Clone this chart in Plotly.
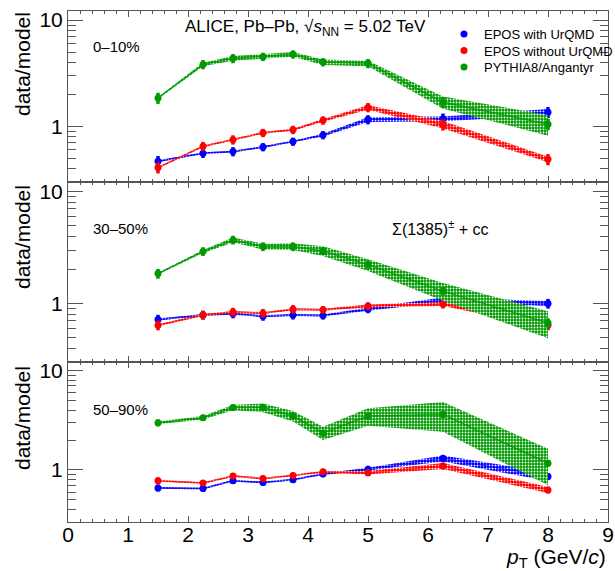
import plotly.graph_objects as go
from plotly.subplots import make_subplots

# ---------------- data ----------------
pt = [1.5, 2.25, 2.75, 3.25, 3.75, 4.25, 5.0, 6.25, 8.0]

# 0-10%
epos_urqmd_0_10 = [0.47, 0.56, 0.58, 0.64, 0.72, 0.83, 1.16, 1.18, 1.36]
epos_nourqmd_0_10 = [0.41, 0.65, 0.75, 0.87, 0.93, 1.14, 1.51, 1.04, 0.49]
pythia_0_10 = [1.85, 3.83, 4.37, 4.53, 4.77, 4.03, 3.92, 1.69, 1.05]
sys_urqmd_0_10 = [0.02, 0.02, 0.02, 0.02, 0.02, 0.03, 0.05, 0.05, 0.07]
sys_nourqmd_0_10 = [0.02, 0.02, 0.02, 0.02, 0.02, 0.03, 0.05, 0.08, 0.06]
sys_pythia_0_10 = [0.02, 0.04, 0.05, 0.05, 0.05, 0.06, 0.06, 0.13, 0.22]
stat_0_10 = [0.12, 0.10, 0.10, 0.09, 0.09, 0.09, 0.10, 0.12, 0.12]

# 30-50%
epos_urqmd_30_50 = [0.72, 0.79, 0.81, 0.77, 0.79, 0.78, 0.89, 1.08, 1.00]
epos_nourqmd_30_50 = [0.64, 0.79, 0.84, 0.82, 0.89, 0.88, 0.95, 0.99, 0.64]
pythia_30_50 = [1.85, 2.92, 3.70, 3.23, 3.23, 2.95, 2.22, 1.29, 0.67]
sys_urqmd_30_50 = [0.02, 0.02, 0.02, 0.02, 0.02, 0.02, 0.03, 0.05, 0.05]
sys_nourqmd_30_50 = [0.02, 0.02, 0.02, 0.02, 0.02, 0.02, 0.03, 0.04, 0.05]
sys_pythia_30_50 = [0.02, 0.03, 0.05, 0.06, 0.07, 0.10, 0.12, 0.18, 0.27]
stat_30_50 = [0.10, 0.09, 0.09, 0.09, 0.09, 0.08, 0.08, 0.09, 0.10]

# 50-90%
epos_urqmd_50_90 = [0.66, 0.65, 0.78, 0.75, 0.80, 0.91, 1.02, 1.31, 0.86]
epos_nourqmd_50_90 = [0.78, 0.74, 0.87, 0.82, 0.88, 0.96, 0.94, 1.10, 0.63]
pythia_50_90 = [2.98, 3.35, 4.24, 4.24, 3.49, 2.36, 3.49, 3.62, 1.17]
sys_urqmd_50_90 = [0.02, 0.02, 0.02, 0.02, 0.02, 0.02, 0.03, 0.07, 0.10]
sys_nourqmd_50_90 = [0.02, 0.02, 0.02, 0.02, 0.02, 0.02, 0.04, 0.07, 0.07]
sys_pythia_50_90 = [0.03, 0.04, 0.06, 0.10, 0.12, 0.15, 0.20, 0.33, 0.40]
stat_50_90 = [0.08, 0.07, 0.07, 0.07, 0.07, 0.07, 0.08, 0.08, 0.08]

model_names = ["EPOS with UrQMD", "EPOS without UrQMD", "PYTHIA8/Angantyr"]
centralities = ["0–10%", "30–50%", "50–90%"]
x_ticks = [0, 1, 2, 3, 4, 5, 6, 7, 8, 9]
y_ticks = [1, 10]
y_minor = [0.3, 0.4, 0.5, 0.6, 0.7, 0.8, 0.9, 2, 3, 4, 5, 6, 7, 8, 9]

panels = [
    (stat_0_10, [(epos_urqmd_0_10, sys_urqmd_0_10), (epos_nourqmd_0_10, sys_nourqmd_0_10), (pythia_0_10, sys_pythia_0_10)]),
    (stat_30_50, [(epos_urqmd_30_50, sys_urqmd_30_50), (epos_nourqmd_30_50, sys_nourqmd_30_50), (pythia_30_50, sys_pythia_30_50)]),
    (stat_50_90, [(epos_urqmd_50_90, sys_urqmd_50_90), (epos_nourqmd_50_90, sys_nourqmd_50_90), (pythia_50_90, sys_pythia_50_90)]),
]

colors = ["#0000ff", "#ff0000", "#009a00"]
line_cols = ["rgba(0,0,255,0.55)", "rgba(255,0,0,0.55)", "rgba(0,154,0,0.8)"]
legend_ids = ["legend", "legend2", "legend3"]

FONT = "Liberation Sans, Arial, sans-serif"

# ---------------- figure ----------------
W, H = 615, 571
ml, mr, mt, mb = 68, 7, 11, 49
fig = make_subplots(rows=3, cols=1, shared_xaxes=True, vertical_spacing=0,
                    row_heights=[171, 180, 160])

for r, (stat, series) in enumerate(panels, start=1):
    for i, (vals, sysr) in enumerate(series):
        up = [v * (1 + s) for v, s in zip(vals, sysr)]
        lo = [v * (1 - s) for v, s in zip(vals, sysr)]
        fig.add_trace(go.Scatter(x=pt + pt[::-1], y=up + lo[::-1], fill="toself",
                                 fillcolor=colors[i],
                                 fillpattern=dict(shape=".", fgcolor="white", bgcolor=colors[i],
                                                  size=3, solidity=0.3, fillmode="replace"),
                                 line=dict(width=0, color=colors[i]), mode="lines",
                                 hoverinfo="skip", showlegend=False), row=r, col=1)
        fig.add_trace(go.Scatter(x=pt, y=vals, mode="lines",
                                 line=dict(color=line_cols[i], width=1.5), showlegend=False,
                                 hoverinfo="skip"), row=r, col=1)
        fig.add_trace(go.Scatter(x=pt, y=vals, mode="markers",
                                 marker=dict(color=colors[i], size=7, symbol="circle"),
                                 error_y=dict(type="data", array=[v * e for v, e in zip(vals, stat)],
                                              color=colors[i], thickness=3.5, width=0),
                                 name=model_names[i], showlegend=(r == 1),
                                 legend=legend_ids[i]),
                      row=r, col=1)

axis_col = "#555555"
for r in range(1, 4):
    fig.update_xaxes(range=[0, 9], tickvals=x_ticks, ticks="inside", ticklen=6, tickwidth=1,
                     tickcolor=axis_col, showline=True, linecolor=axis_col, linewidth=1,
                     mirror="allticks", showgrid=False, zeroline=False,
                     ticklabelstandoff=-6,
                     minor=dict(dtick=0.2, tick0=0, ticks="inside", ticklen=3, tickcolor=axis_col),
                     tickfont=dict(family=FONT, size=21, color="black"), row=r, col=1)
    fig.update_yaxes(type="log", range=[-0.523, 1.086], tickvals=y_ticks, ticktext=["1", "10"],
                     ticks="inside", ticklen=15, tickwidth=1, tickcolor=axis_col,
                     showline=True, linecolor=axis_col, linewidth=1, mirror="allticks",
                     showgrid=False, zeroline=False,
                     minor=dict(tickvals=y_minor, ticks="inside", ticklen=8, tickcolor=axis_col),
                     tickfont=dict(family=FONT, size=21, color="black"), row=r, col=1)

plot_w = W - ml - mr
plot_h = H - mt - mb


def px(xp):
    return (xp - ml) / plot_w


def py(yp):
    return (H - mb - yp) / plot_h


ann = []
for yc in [64, 237, 418]:
    ann.append(dict(text="data/model", x=px(22), y=py(yc), xref="paper", yref="paper",
                    textangle=-90, xanchor="center", yanchor="middle", showarrow=False,
                    font=dict(family=FONT, size=21, color="black")))
for lab, yc in zip(centralities, [46, 228, 409]):
    ann.append(dict(text=lab, x=px(91), y=py(yc), xref="paper", yref="paper",
                    xanchor="left", yanchor="middle", showarrow=False,
                    font=dict(family=FONT, size=15, color="black")))
ann.append(dict(text="ALICE, Pb–Pb, √<i>s</i><sub>NN</sub> = 5.02 TeV", x=px(183), y=py(28),
                xref="paper", yref="paper", xanchor="left", yanchor="middle", showarrow=False,
                font=dict(family=FONT, size=17, color="black")))
ann.append(dict(text="Σ(1385)<sup>±</sup> + cc", x=px(390), y=py(228),
                xref="paper", yref="paper", xanchor="left", yanchor="middle", showarrow=False,
                font=dict(family=FONT, size=16, color="black")))
ann.append(dict(text="<i>p</i><sub>T</sub> (GeV/<i>c</i>)", x=1.0, y=py(558),
                xref="paper", yref="paper", xanchor="right", yanchor="middle", showarrow=False,
                font=dict(family=FONT, size=21, color="black")))

leg_common = dict(xanchor="left", yanchor="top", bgcolor="rgba(0,0,0,0)",
                  font=dict(family=FONT, size=13, color="black"), itemwidth=30)
fig.update_layout(
    width=W, height=H, margin=dict(l=ml, r=mr, t=mt, b=mb, pad=0, autoexpand=False),
    paper_bgcolor="white", plot_bgcolor="white",
    font=dict(family=FONT, color="black"),
    annotations=ann,
    legend=dict(x=px(444), y=py(19), **leg_common),
    legend2=dict(x=px(444), y=py(35.5), **leg_common),
    legend3=dict(x=px(444), y=py(52), **leg_common),
)

fig.write_html("out.html")
